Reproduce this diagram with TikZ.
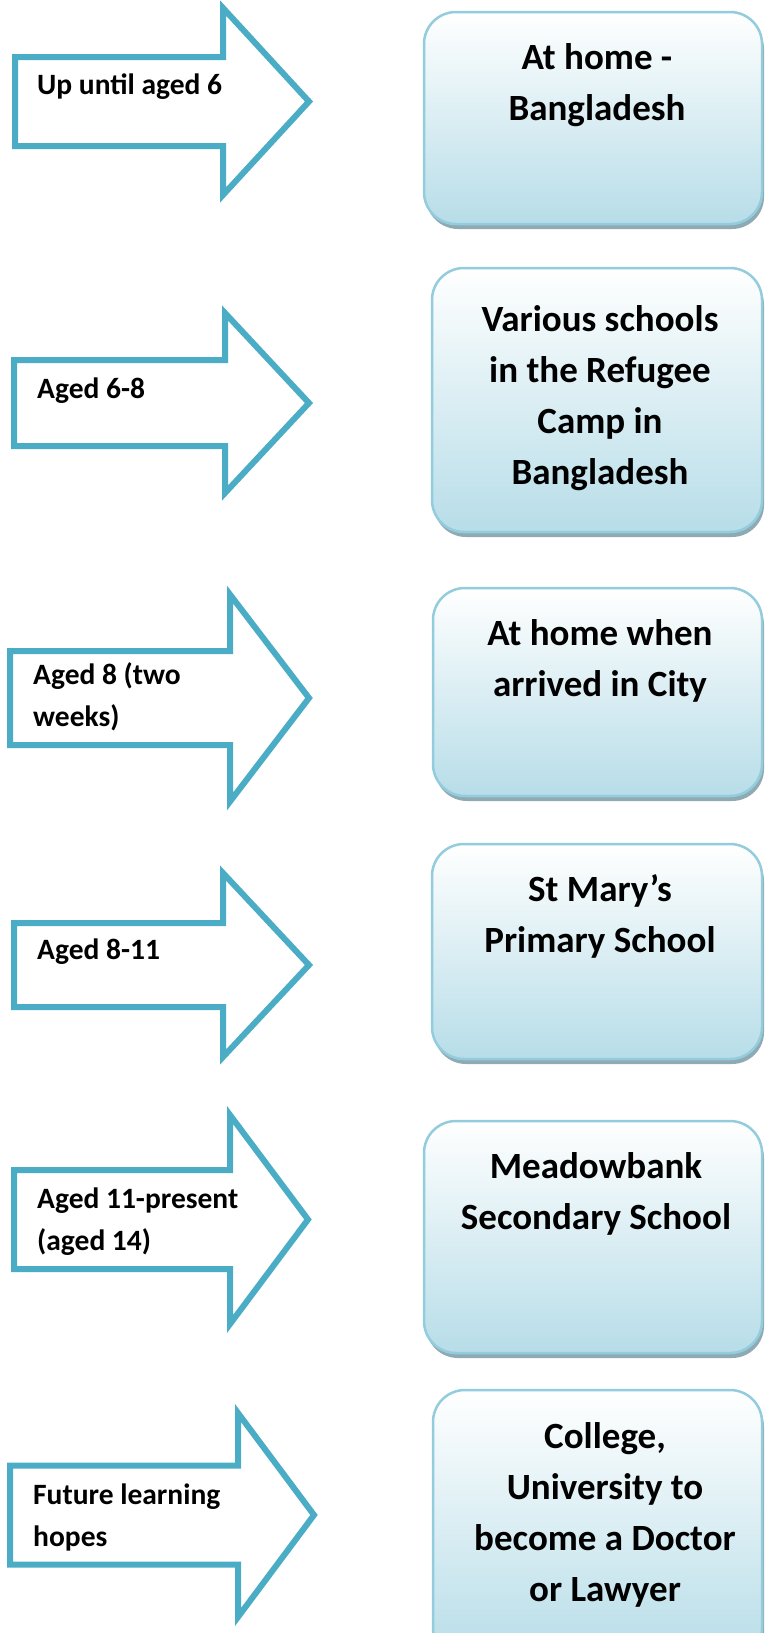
\documentclass[tikz,border=0pt]{standalone}
\usepackage{fontspec}
\setmainfont{Carlito}
\definecolor{arrowblue}{HTML}{4BACC6}
\definecolor{boxedge}{HTML}{93CDDD}
\definecolor{boxfill}{HTML}{B7DDE8}
\definecolor{boxshade}{HTML}{8FAAB3}
\tikzstyle{arrowline} = [draw=arrowblue,line width=6pt,fill=white]
\tikzstyle{stage} = [draw=boxedge,line width=2.5pt,rounded corners=32pt,top color=white,bottom color=boxfill]
\tikzstyle{stageshadow} = [fill=boxshade,rounded corners=32pt]
\tikzstyle{agelabel} = [anchor=north west,inner sep=0pt,align=left,font=\fontsize{29.5}{42}\selectfont\bfseries]
\tikzstyle{stagetext} = [anchor=north,inner sep=0pt,align=center,font=\fontsize{37}{51}\selectfont\bfseries]
\newcommand{\agearrow}[6][]{
 \begin{scope}[shift={(#2)},#1]
  \draw[arrowline] (0,-#3) -- (#5,-#3) -- (#5,-#4) -- (#6,0) -- (#5,#4) -- (#5,#3) -- (0,#3) -- cycle;
 \end{scope}
}
\newcommand{\stagebox}[3]{
  \fill[stageshadow] (#1+2,#2+5) rectangle (764,#3+5);
  \draw[stage] (#1,#2) rectangle (762,#3);
}
\begin{document}
\begin{tikzpicture}[x=1pt,y=-1pt]
    \useasboundingbox (0,0) rectangle (765,1633);
    \clip (0,0) rectangle (765,1633);

    % age arrows
    \agearrow{15,101.5}{44.5}{93.5}{208}{294}
    \agearrow{14,403}{43}{90}{211}{295}
    \agearrow{10,698}{47}{103.5}{220}{299}
    \agearrow{14,965}{42}{92}{209}{295}
    \agearrow{14,1219.5}{49.5}{104.5}{216}{294}
    \agearrow{10,1515}{49.5}{102}{228}{304}

    \node[agelabel] (age1) at (37,65)   {\strut Up until aged 6};
    \node[agelabel] (age2) at (37,369)  {\strut Aged 6-8};
    \node[agelabel] (age3) at (33,655)  {\strut Aged 8 (two\\weeks)};
    \node[agelabel] (age4) at (37,930)  {\strut Aged 8-11};
    \node[agelabel] (age5) at (37,1179) {\strut Aged 11-present\\(aged 14)};
    \node[agelabel] (age6) at (33,1475) {\strut Future learning\\hopes};

    % learning places
    \stagebox{424}{12}{224}
    \stagebox{432}{268}{532}
    \stagebox{433}{588}{796}
    \stagebox{432}{844}{1059}
    \stagebox{424}{1121}{1353}
    \stagebox{433}{1390}{1660}

    \node[stagetext] (home)     at (597,34)   {\strut At home -\\Bangladesh};
    \node[stagetext] (camp)     at (600,296)  {\strut Various schools\\in the Refugee\\Camp in\\Bangladesh};
    \node[stagetext] (city)     at (600,610)  {\strut At home when\\arrived in City};
    \node[stagetext] (primary)  at (600,866)  {\strut St Mary’s\\Primary School};
    \node[stagetext] (secondary) at (596,1143) {\strut Meadowbank\\Secondary School};
    \node[stagetext] (future)   at (605,1413) {\strut College,\\University to\\become a Doctor\\or Lawyer};
\end{tikzpicture}
\end{document}
